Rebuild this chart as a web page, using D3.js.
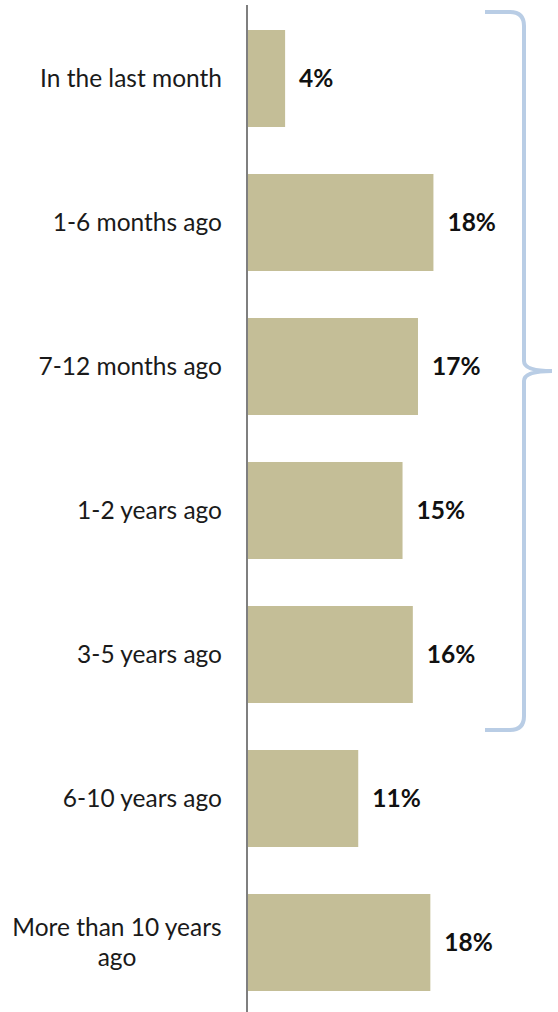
<!DOCTYPE html>
<html><head><meta charset="utf-8">
<script src="https://cdn.jsdelivr.net/npm/d3@7"></script>
<style>html,body{margin:0;padding:0;background:#fff;}svg{display:block;}</style>
</head><body>
<svg id="chart" width="558" height="1012"></svg>
<script>
const categories = ["In the last month","1-6 months ago","7-12 months ago","1-2 years ago","3-5 years ago","6-10 years ago","More than 10 years ago"];
const values = [3.7, 18.1, 16.6, 15.1, 16.1, 10.8, 17.8];
const valueLabels = ["4%","18%","17%","15%","16%","11%","18%"];
const categoryLines = [["In the last month"],["1-6 months ago"],["7-12 months ago"],["1-2 years ago"],["3-5 years ago"],["6-10 years ago"],["More than 10 years","ago"]];
const bracedCount = 5;

(function(){
const svg = d3.select("#chart");
const x0 = 247;
const x = d3.scaleLinear().domain([0, 20]).range([x0, x0 + 206]);
const y = d3.scaleBand().domain(categories).range([6.5, 1014.5]).paddingInner(0.3264).paddingOuter(0.1632);
const font = "Lato, 'Open Sans', sans-serif";
const fs = 24.5;

svg.selectAll("rect.bar").data(categories).join("rect")
  .attr("class","bar")
  .attr("x", x(0) + 1)
  .attr("y", d => y(d))
  .attr("width", (d,i) => x(values[i]) - x(0) - 1)
  .attr("height", y.bandwidth())
  .attr("fill", "#C4BE97");

svg.append("line").attr("x1", x0).attr("x2", x0).attr("y1", 5).attr("y2", 1012)
  .attr("stroke", "#555").attr("stroke-width", 1.5);

categories.forEach((c, i) => {
  const lines = categoryLines[i];
  const cy = y(c) + y.bandwidth() / 2;
  const lh = 30;
  const t = svg.append("text").attr("text-anchor", "middle")
    .attr("font-family", font).attr("font-size", fs).attr("fill", "#1a1a1a");
  if (lines.length === 1) {
    t.attr("text-anchor","end").attr("x", 222).attr("y", cy + 8.5).text(lines[0]);
  } else {
    lines.forEach((l, k) => {
      t.append("tspan").attr("x", 117).attr("y", cy + 8.5 + (k - (lines.length-1)/2) * lh).text(l);
    });
  }
});

svg.selectAll("text.val").data(categories).join("text")
  .attr("class","val")
  .attr("x", (d,i) => x(values[i]) + 14)
  .attr("y", d => y(d) + y.bandwidth()/2 + 8.5)
  .attr("font-family", font).attr("font-weight", "bold").attr("font-size", fs)
  .attr("fill", "#111")
  .text((d,i) => valueLabels[i]);

const bTop = y(categories[0]) - 18;
const bBot = y(categories[bracedCount-1]) + y.bandwidth() + 27;
const mid = (bTop + bBot) / 2;
const bx = 524, left = 485, tip = 552, r = 14;
const p = d3.path();
p.moveTo(left, bTop);
p.lineTo(bx - r, bTop);
p.quadraticCurveTo(bx, bTop, bx, bTop + r);
p.lineTo(bx, mid - 10);
p.quadraticCurveTo(bx, mid, tip, mid);
p.moveTo(tip, mid);
p.quadraticCurveTo(bx, mid, bx, mid + 10);
p.lineTo(bx, bBot - r);
p.quadraticCurveTo(bx, bBot, bx - r, bBot);
p.lineTo(left, bBot);
svg.append("path").attr("d", p.toString()).attr("fill","none")
  .attr("stroke", "#B9CDE5").attr("stroke-width", 4);
})();
</script>
</body></html>
